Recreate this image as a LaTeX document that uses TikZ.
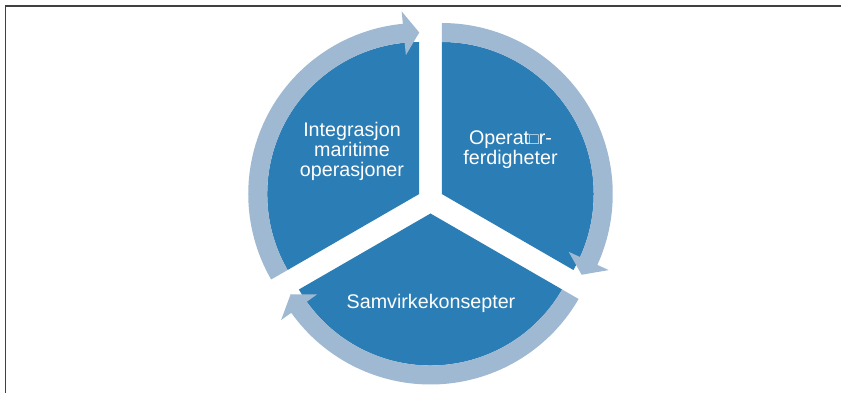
\documentclass[tikz,border=0pt]{standalone}
\usepackage{fontspec}
\setmainfont{Liberation Sans}
\definecolor{sectorblue}{RGB}{43,125,181}
\definecolor{bandblue}{RGB}{160,185,210}
\newcommand{\cyclearrow}[1]{%
  \fill[band] (#1+60:171pt) arc[start angle=#1+60, end angle=#1-54.5, radius=171pt]
    -- (#1-54.5:183.5pt) -- (#1-60:161.5pt) -- (#1-54.5:139.5pt) -- (#1-54.5:152pt)
    arc[start angle=#1-54.5, end angle=#1+60, radius=152pt] -- cycle;}

\begin{document}
\begin{tikzpicture}[x=1pt,y=1pt]
                        \tikzstyle{sector}=[fill=sectorblue]
                        \tikzstyle{band}=[fill=bandblue]
                        \tikzstyle{label}=[text=white, align=center, inner sep=0pt,
                            font=\fontsize{19.7}{20}\selectfont]
                        \useasboundingbox (0,0) rectangle (841,393);
                        \draw[line width=1.3pt, black!75] (5.7,0) -- (5.7,387) -- (841,387);
                        \begin{scope}[shift={(430.5,192.5)}]
                            \foreach \b in {30,-90,150} {
                                \begin{scope}[shift={(\b:13pt)}]
                                    \fill[sector] (0,0) -- (\b+60:152pt)
                                        arc[start angle=\b+60, end angle=\b-60, radius=152pt] -- cycle;
                                    \cyclearrow{\b}
                                \end{scope}
                            }
                        \end{scope}
                        \node[label] (integrasjon) at (352,241.3) {Integrasjon\\maritime\\operasjoner};
                        \node[label] (operator) at (510.5,243) {Operat{\fontsize{16}{16}\selectfont □}r-\\ferdigheter};
                        \node[label] (samvirke) at (431,90) {Samvirkekonsepter};
                    \end{tikzpicture}
\end{document}
